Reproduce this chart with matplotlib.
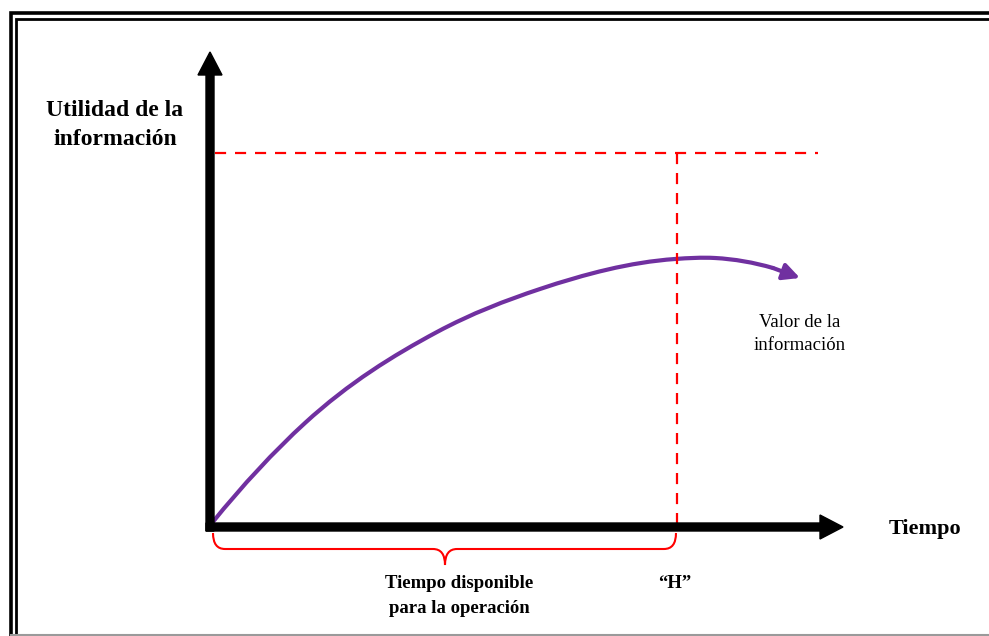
import matplotlib.pyplot as plt
from matplotlib.path import Path
from matplotlib.patches import PathPatch

plt.rcParams["font.family"] = ["Liberation Serif", "DejaVu Serif"]

# Curve "valor de la informacion" (time, utility)
curve_t = [0, 93, 225, 328, 463, 503, 561]
curve_u = [0, 100, 191, 234, 264, 265, 255]
curve_tip = (588, 245)

# Reference levels
max_utility = 370     # dashed horizontal
horizon_t = 465       # dashed vertical "H"
dash_end_t = 606
y_axis_top = 471
x_axis_end = 631

PURPLE = "#7030A0"
RED = "#FF0000"


def smooth_path(xs, ys):
    # piecewise cubic Hermite through the points (slopes from 3-point parabolas)
    n = len(xs)
    h = [xs[i + 1] - xs[i] for i in range(n - 1)]
    d = [(ys[i + 1] - ys[i]) / h[i] for i in range(n - 1)]
    m = [0.0] * n
    for i in range(1, n - 1):
        m[i] = (h[i] * d[i - 1] + h[i - 1] * d[i]) / (h[i - 1] + h[i])
    m[0] = 2 * d[0] - m[1]
    m[-1] = 2 * d[-1] - m[-2]
    verts = [(xs[0], ys[0])]
    codes = [Path.MOVETO]
    for i in range(n - 1):
        k = h[i] / 3
        verts += [(xs[i] + k, ys[i] + m[i] * k),
                  (xs[i + 1] - k, ys[i + 1] - m[i + 1] * k),
                  (xs[i + 1], ys[i + 1])]
        codes += [Path.CURVE4] * 3
    return Path(verts, codes)


fig = plt.figure(figsize=(9.89, 6.36), dpi=100)
ax = fig.add_axes([0, 0, 1, 1])
ax.set_xlim(-212, 777)
ax.set_ylim(-113, 523)
ax.axis("off")

# Double frame + grey bottom line
ax.plot([-201, -201, 800], [-120, 510.5, 510.5], color="black", lw=2.6, solid_joinstyle="miter")
ax.plot([-196, -196, 800], [-120, 504.5, 504.5], color="black", lw=2.0, solid_joinstyle="miter")
ax.plot([-201, 800], [-112, -112], color="#9a9a9a", lw=1.5)

# Dashed reference lines
ax.plot([3, dash_end_t], [max_utility, max_utility], color=RED, lw=1.6, dashes=(5, 4))
ax.plot([horizon_t, horizon_t], [max_utility, 0], color=RED, lw=1.6, dashes=(5, 4))

# Curve with arrow head
ax.add_patch(PathPatch(smooth_path(curve_t, curve_u), fill=False,
                       edgecolor=PURPLE, lw=3, capstyle="round"))
ax.annotate("", xy=curve_tip, xytext=(curve_t[-1], curve_u[-1]),
            arrowprops=dict(arrowstyle="-|>,head_length=1.0,head_width=0.5",
                            color=PURPLE, lw=3, shrinkA=0, shrinkB=0))

# Axes arrows
ax.arrow(-2, -8, 0, y_axis_top + 8, width=8, head_width=24, head_length=23,
         length_includes_head=True, color="black", zorder=3)
ax.arrow(-6, -4, x_axis_end + 6, 0, width=8, head_width=24, head_length=23,
         length_includes_head=True, color="black", zorder=3)

# Brace under the time axis
left, right, mid = 1, 464, 233
top, flat, tip = -10, -26, -42
verts = [(left, top), (left, flat), (left + 12, flat),
         (mid - 12, flat), (mid, flat), (mid, tip),
         (mid, flat), (mid + 12, flat),
         (right - 12, flat), (right, flat), (right, top)]
codes = [Path.MOVETO, Path.CURVE3, Path.CURVE3,
         Path.LINETO, Path.CURVE3, Path.CURVE3,
         Path.CURVE3, Path.CURVE3,
         Path.LINETO, Path.CURVE3, Path.CURVE3]
ax.add_patch(PathPatch(Path(verts, codes), fill=False, edgecolor=RED, lw=1.5))

# Labels
ax.text(-97, 398, "Utilidad de la\ninformación", ha="center", va="center",
        fontsize=17, fontweight="bold", linespacing=1.45)
ax.text(713, -6, "Tiempo", ha="center", va="center", fontsize=16, fontweight="bold")
ax.text(247, -73, "Tiempo disponible\npara la operación", ha="center", va="center",
        fontsize=13.5, fontweight="bold", linespacing=1.55)
ax.text(463, -60, "\u201cH\u201d", ha="center", va="center", fontsize=13.5, fontweight="bold")
ax.text(588, 189, "Valor de la\ninformación", ha="center", va="center",
        fontsize=13.5, linespacing=1.45)

fig.savefig("out.png", dpi=100)
